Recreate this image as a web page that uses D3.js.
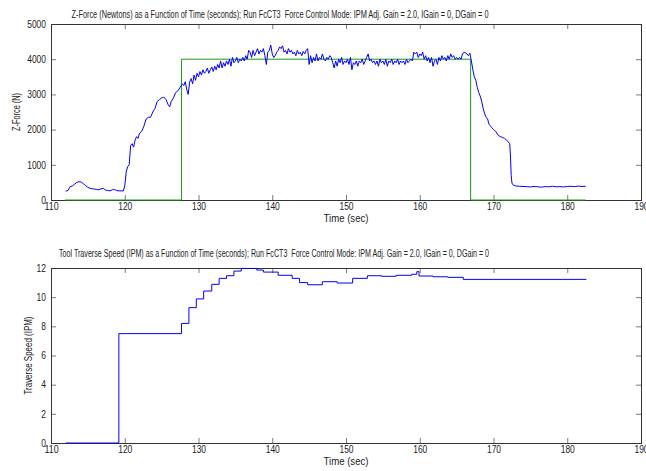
<!DOCTYPE html>
<html><head><meta charset="utf-8">
<script src="https://cdn.jsdelivr.net/npm/d3@7"></script>
<style>
html,body{margin:0;padding:0;background:#fff;}
svg{display:block;}
text{font-family:'Liberation Sans',Arial,sans-serif;fill:#222;white-space:pre;}
</style></head>
<body>
<svg id="chart" width="646" height="471"></svg>
<script>
// ---------------- data ----------------
const xTicks = [110,120,130,140,150,160,170,180,190];
const forceTicks = [0,1000,2000,3000,4000,5000];
const speedTicks = [0,2,4,6,8,10,12];

const titleForce = "Z-Force (Newtons) as a Function of Time (seconds); Run FcCT3  Force Control Mode: IPM Adj. Gain = 2.0, IGain = 0, DGain = 0";
const titleSpeed = "Tool Traverse Speed (IPM) as a Function of Time (seconds); Run FcCT3  Force Control Mode: IPM Adj. Gain = 2.0, IGain = 0, DGain = 0";
const xLabel = "Time (sec)";
const forceLabel = "Z-Force (N)";
const speedLabel = "Traverse Speed (IPM)";

// measured Z-force [time s, force N]
const forceMeasured = [
[112.0,250],[112.3,270],[112.6,380],[112.9,400],[113.2,450],[113.5,500],[113.8,520],[114.1,510],[114.4,460],[114.7,410],
[115.0,360],[115.3,330],[115.6,320],[115.9,310],[116.2,300],[116.5,290],[116.8,320],[117.1,330],[117.4,280],[117.7,270],
[118.0,260],[118.3,290],[118.6,300],[118.9,270],[119.2,260],[119.5,260],[119.8,255],
[120.0,400],[120.2,800],[120.4,950],[120.6,1000],[120.8,1550],[121.0,1600],[121.2,1500],[121.4,1700],[121.6,1800],[121.8,1750],
[122.0,1900],[122.3,1950],[122.6,2100],[122.9,2300],[123.2,2350],[123.5,2350],[123.8,2500],[124.1,2600],[124.4,2800],[124.7,2850],
[125.0,2900],[125.3,2920],[125.6,2850],[125.9,2700],[126.1,2650],[126.3,2800],[126.6,2900],[126.9,3050],[127.2,3100],[127.5,3200],
[127.8,3300],[128.0,3250],[128.2,3360],[128.4,3150],[128.6,3000],[128.8,3350],[129.0,3450],[129.2,3300],[129.4,3550],[129.6,3400],
[129.8,3600],[130.0,3500],[130.2,3650],[130.4,3550],[130.6,3700],[130.8,3600],[131.0,3650],[131.2,3750],[131.4,3600],[131.6,3700],
[131.8,3780],[132.0,3650],[132.2,3800],[132.4,3700],[132.6,3850],[132.8,3750],[133.0,3950],[133.2,3750],[133.4,3900],[133.6,3800],
[133.8,3950],[134.0,3850],[134.2,4000],[134.4,3800],[134.6,4050],[134.8,3900],[135.0,3950],[135.2,4050],[135.4,3900],[135.6,4000],
[135.8,3950],[136.0,4050],[136.2,3950],[136.4,4100],[136.6,4000],[136.8,4250],[137.0,4200],[137.2,4050],[137.4,4250],[137.6,4100],
[137.8,4200],[138.0,4300],[138.2,4150],[138.4,4250],[138.6,4200],[138.8,4300],[139.0,4100],[139.2,3850],[139.4,4200],[139.6,4250],
[139.8,4400],[140.0,4150],[140.2,4050],[140.4,4100],[140.6,4200],[140.8,4250],[141.0,4350],[141.2,4300],[141.4,4380],[141.6,4200],
[141.8,4250],[142.0,4150],[142.2,4300],[142.4,4200],[142.6,4250],[142.8,4150],[143.0,4200],[143.2,4100],[143.4,4250],[143.6,4150],
[143.8,4200],[144.0,4100],[144.2,4220],[144.4,4150],[144.6,4250],[144.8,4300],[145.0,3850],[145.2,4100],[145.4,3900],[145.6,4050],
[145.8,3950],[146.0,4150],[146.2,3950],[146.4,4050],[146.6,4000],[146.8,4150],[147.0,4000],[147.2,3950],[147.4,4050],[147.6,4000],
[147.8,4100],[148.0,4050],[148.2,3900],[148.4,3750],[148.6,3950],[148.8,3800],[149.0,4000],[149.2,3900],[149.4,4050],[149.6,3850],
[149.8,3950],[150.0,3900],[150.2,4000],[150.4,3850],[150.6,4050],[150.8,3700],[151.0,3900],[151.2,3850],[151.4,3950],[151.6,3800],
[151.8,3950],[152.0,3900],[152.2,4000],[152.4,3850],[152.6,3950],[152.8,4050],[153.0,4150],[153.2,3950],[153.4,4000],[153.6,3900],
[153.8,3950],[154.0,3850],[154.2,3950],[154.4,3800],[154.6,4000],[154.8,3900],[155.0,3950],[155.2,3850],[155.4,4000],[155.6,3800],
[155.8,3950],[156.0,3900],[156.2,4000],[156.4,3850],[156.6,3950],[156.8,3900],[157.0,4000],[157.2,3850],[157.4,3950],[157.6,3900],
[157.8,3950],[158.0,3850],[158.2,4000],[158.4,3900],[158.6,3950],[158.8,4000],[159.0,3950],[159.2,4200],[159.4,4150],[159.6,4200],
[159.8,4050],[160.0,4150],[160.2,4100],[160.4,4200],[160.6,4000],[160.8,4100],[161.0,3950],[161.2,4050],[161.4,3900],[161.6,4050],
[161.8,3800],[162.0,3950],[162.2,4000],[162.4,3850],[162.6,4050],[162.8,3950],[163.0,4100],[163.2,4000],[163.4,4050],[163.6,3950],
[163.8,4100],[164.0,4000],[164.2,4150],[164.4,4050],[164.6,4100],[164.8,4000],[165.0,4050],[165.2,4000],[165.4,4050],[165.6,4000],
[165.8,4150],[166.0,4200],[166.2,4180],[166.4,4150],[166.6,4100],[166.8,4170],[167.0,3950],[167.2,3700],[167.4,3500],[167.6,3400],
[167.8,3200],[168.0,3050],[168.2,2950],[168.4,2800],[168.6,2600],[168.8,2450],[169.0,2350],[169.2,2300],[169.4,2150],[169.6,2100],
[169.8,2050],[170.0,2000],[170.3,1950],[170.6,1850],[170.9,1800],[171.2,1780],[171.5,1750],[171.8,1700],[172.0,1650],[172.2,1600],
[172.3,1250],[172.4,700],[172.5,480],[172.7,420],[173.0,400],[173.5,390],[174.0,385],[174.5,380],[175.0,370],[175.5,385],
[176.0,375],[176.5,365],[177.0,380],[177.5,375],[178.0,390],[178.5,375],[179.0,380],[179.5,370],[180.0,385],[180.5,390],
[181.0,380],[181.5,395],[182.0,385],[182.5,390]
];

// commanded force step [time s, force N]
const forceCommand = [[111.9,0],[127.7,4000],[166.9,0],[182.5,0]];

// traverse speed steps [time s, IPM] (value holds until next time)
const speedSteps = [
[112.0,0],[119.2,7.5],[127.7,8.2],[128.7,9.28],[129.7,9.88],[130.7,10.42],[131.8,10.88],[132.8,11.29],[133.8,11.47],
[134.8,11.79],[135.8,11.97],[137.9,11.86],[138.8,11.72],[140.8,11.5],[142.7,11.29],[143.7,11.0],[144.8,10.85],
[146.8,11.06],[148.8,10.97],[150.9,11.29],[152.9,11.47],[154.8,11.43],[156.8,11.5],[158.9,11.57],[159.6,11.75],
[159.9,11.45],[161.8,11.4],[163.8,11.36],[165.9,11.22],[182.6,11.22]
];

// ---------------- drawing ----------------
const svg = d3.select("#chart");
const X0 = 51, X1 = 641;

function fitText(sel, w) {
  sel.attr("textLength", w).attr("lengthAdjust", "spacingAndGlyphs");
}

function panel(top, bottom, yDomain, yTicksArr, title, titleY, titleX, titleW, yLab, yLabX, yLabW) {
  const x = d3.scaleLinear().domain([110,190]).range([X0,X1]);
  const y = d3.scaleLinear().domain(yDomain).range([bottom, top]);
  const g = svg.append("g");
  const tickStyle = sel => {
    sel.select(".domain").remove();
    sel.selectAll(".tick line").attr("stroke","#7a7a7a");
    sel.selectAll(".tick text").attr("fill","#222").style("font-size","10px")
       .each(function(){ const t = d3.select(this).text(); if (t) fitText(d3.select(this), t.length*4.7); });
  };
  g.append("g").attr("transform",`translate(0,${bottom})`)
    .call(d3.axisBottom(x).tickValues(xTicks).tickFormat(d3.format("d")).tickSizeInner(-5).tickSizeOuter(0).tickPadding(3))
    .call(tickStyle);
  g.append("g").attr("transform",`translate(0,${top})`)
    .call(d3.axisTop(x).tickValues(xTicks).tickFormat("").tickSizeInner(-5).tickSizeOuter(0))
    .call(tickStyle);
  g.append("g").attr("transform",`translate(${X0},0)`)
    .call(d3.axisLeft(y).tickValues(yTicksArr).tickFormat(d3.format("d")).tickSizeInner(-5).tickSizeOuter(0).tickPadding(5))
    .call(tickStyle);
  g.append("g").attr("transform",`translate(${X1},0)`)
    .call(d3.axisRight(y).tickValues(yTicksArr).tickFormat("").tickSizeInner(-5).tickSizeOuter(0))
    .call(tickStyle);
  g.append("rect").attr("x",X0).attr("y",top).attr("width",X1-X0).attr("height",bottom-top)
    .attr("fill","none").attr("stroke","#333").attr("stroke-width",1).attr("shape-rendering","crispEdges");
  g.append("text").attr("x",titleX).attr("y",titleY).attr("text-anchor","middle").style("font-size","10px")
    .text(title).call(fitText, titleW);
  g.append("text").attr("x",(X0+X1)/2).attr("y",bottom+22).attr("text-anchor","middle").style("font-size","10px")
    .text(xLabel).call(fitText, 45);
  g.append("text").attr("transform",`translate(${yLabX},${(top+bottom)/2}) rotate(-90)`)
    .attr("text-anchor","middle").style("font-size","10px").text(yLab).call(fitText, yLabW);
  return {x,y,g};
}

const p1 = panel(24, 200, [0,5000], forceTicks, titleForce, 18, 280, 417, forceLabel, 20, 38);
const p2 = panel(268, 443, [0,12], speedTicks, titleSpeed, 257, 274, 430, speedLabel, 32, 78);

p1.g.append("path").datum(forceCommand)
  .attr("d", d3.line().x(d=>p1.x(d[0])).y(d=>p1.y(d[1])).curve(d3.curveStepAfter))
  .attr("fill","none").attr("stroke","#1a9a1a").attr("stroke-width",1);
p1.g.append("path").datum(forceMeasured)
  .attr("d", d3.line().x(d=>p1.x(d[0])).y(d=>p1.y(d[1])))
  .attr("fill","none").attr("stroke","#0000ff").attr("stroke-width",1);

p2.g.append("path").datum(speedSteps)
  .attr("d", d3.line().x(d=>p2.x(d[0])).y(d=>p2.y(d[1])).curve(d3.curveStepAfter))
  .attr("fill","none").attr("stroke","#0000ff").attr("stroke-width",1);
</script>
</body></html>
